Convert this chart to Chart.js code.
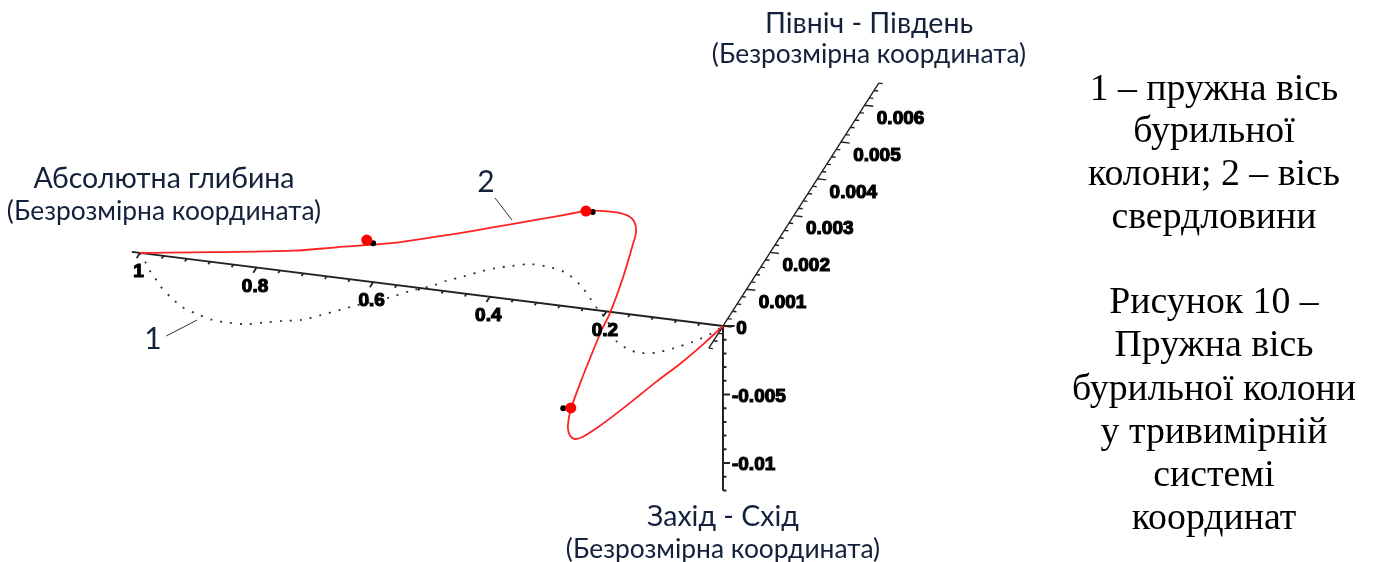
<!DOCTYPE html>
<html>
<head>
<meta charset="utf-8">
<title>Пружна вісь бурильної колони</title>
<style>
  html, body { margin: 0; padding: 0; background: #fff; }
  canvas { display: block; }
</style>
<script src="https://cdn.jsdelivr.net/npm/chart.js@4"></script>
</head>
<body>
<canvas id="chart" width="1375" height="562"></canvas>
<script>
const wellDepth = [0, 0.028, 0.068, 0.114, 0.154, 0.188, 0.217, 0.240, 0.254, 0.262, 0.266, 0.264, 0.260, 0.245, 0.228, 0.208, 0.194, 0.171, 0.154, 0.149, 0.152, 0.162, 0.180, 0.199, 0.220, 0.235, 0.257, 0.314, 0.362, 0.428, 0.491, 0.560, 0.663, 0.737, 0.868, 0.954, 1]
const wellEastWest = [0, -0.00125, -0.00293, -0.00467, -0.00625, -0.00756, -0.00862, -0.00936, -0.00960, -0.00943, -0.00888, -0.00803, -0.00732, -0.00549, -0.00357, -0.00140, -0.00011, 0.00269, 0.00522, 0.00609, 0.00680, 0.00716, 0.00731, 0.00731, 0.00725, 0.00716, 0.00686, 0.00612, 0.00551, 0.00467, 0.00390, 0.00310, 0.00221, 0.00157, 0.00077, 0.00027, 0]

const stringDepth = [1, 0.991, 0.984, 0.975, 0.966, 0.947, 0.927, 0.902, 0.875, 0.849, 0.820, 0.789, 0.756, 0.723, 0.690, 0.657, 0.637, 0.571, 0.537, 0.494, 0.474, 0.446, 0.417, 0.391, 0.364, 0.328, 0.294, 0.268, 0.245, 0.228, 0.214, 0.199, 0.182, 0.165, 0.145, 0.114, 0.085, 0.051, 0.017, 0]
const stringEastWest = [0, -0.00059, -0.00116, -0.00164, -0.00220, -0.00295, -0.00357, -0.00393, -0.00423, -0.00428, -0.00424, -0.00396, -0.00366, -0.00341, -0.00289, -0.00233, -0.00198, -0.00095, -0.00031, 0.00036, 0.00078, 0.00122, 0.00174, 0.00213, 0.00244, 0.00276, 0.00269, 0.00242, 0.00169, 0.00081, 0.00003, -0.00062, -0.00212, -0.00251, -0.00272, -0.00255, -0.00208, -0.00142, -0.00058, 0]

const markerDepth = [0.611, 0.235, 0.261]
const markerEastWest = [0.00302, 0.00714, -0.00737]
const anchorDepth = [0.600, 0.2235, 0.274]
const anchorEastWest = [0.00284, 0.00713, -0.00746]

const depthLabels = [1, 0.8, 0.6, 0.4, 0.2]
const northSouthLabels = [0.001, 0.002, 0.003, 0.004, 0.005, 0.006]
const eastWestLabels = [0, -0.005, -0.01]

const axisTitles = [
  { lines: ['Абсолютна глибина', '(Безрозмірна координата)'], x: 164, y: [179, 211] },
  { lines: ['Північ - Південь', '(Безрозмірна координата)'], x: 869, y: [24, 54] },
  { lines: ['Захід - Схід', '(Безрозмірна координата)'], x: 723, y: [517, 549] }
]
const caption = [
  ['1 – пружна вісь', 90], ['бурильної', 132], ['колони; 2 – вісь', 175], ['свердловини', 218],
  ['Рисунок 10 –', 303], ['Пружна вісь', 346], ['бурильної колони', 390],
  ['у тривимірній', 433], ['системі', 476], ['координат', 519]
]

// oblique view: depth runs along x, east-west along y, north-south is sheared across both
function project(depth, northSouth, eastWest) {
  return {
    x: depth - northSouth * 40.48,
    y: eastWest + northSouth * 2.686 + depth * 0.00533
  }
}

function curve(depths, eastWests) {
  return depths.map((d, i) => project(d, 0, eastWests[i]))
}

function segments(list) {
  const out = []
  list.forEach(pair => out.push(pair[0], pair[1], { x: NaN, y: NaN }))
  return out
}

function range(from, to, count) {
  const out = []
  for (let i = 0; i <= count; i++) out.push(from + (to - from) * i / count)
  return out
}

function isMajor(v, step) {
  return Math.abs(v / step - Math.round(v / step)) < 1e-6
}

const depthAxis = [
  [project(0, 0, 0), project(1.014, 0, 0)],
  ...range(0, 1, 25).map(d => [project(d, 0, 0), project(d, isMajor(d, 0.2) ? -0.00014 : -0.00007, 0)])
]
const northSouthAxis = [
  [project(0, -0.0006, 0), project(0, 0.0066, 0)],
  ...range(-0.0006, 0.0066, 36).map(n => [project(0, n, 0), project(isMajor(n, 0.001) ? -0.015 : -0.007, n, 0)])
]
const eastWestAxis = [
  [project(0, 0, 0), project(0, 0, -0.012)],
  ...range(0, -0.012, 12).map(e => {
    const start = project(0, 0, e)
    const len = e === 0 ? 0.02 : isMajor(e, 0.005) ? 0.012 : 0.006
    return [start, { x: start.x - len, y: start.y }]
  })
]

const leaderOne = curve([0.955, 0.902], [-0.00582, -0.00437])
const leaderTwo = curve([0.391, 0.362], [0.00726, 0.00581])

function axisDataset(list, width) {
  return {
    data: segments(list), showLine: true, pointRadius: 0,
    borderColor: '#222', borderWidth: width, spanGaps: false
  }
}

const textPlugin = {
  id: 'chartText',
  afterDatasetsDraw(chart) {
    const ctx = chart.ctx
    const sx = chart.scales.x
    const sy = chart.scales.y
    ctx.save()

    function tickText(text, pos, dx, dy, align) {
      const px = sx.getPixelForValue(pos.x) + dx
      const py = sy.getPixelForValue(pos.y) + dy
      ctx.font = 'bold 19px "Liberation Sans"'
      ctx.textAlign = align
      ctx.textBaseline = 'middle'
      ctx.fillStyle = '#000'
      ctx.strokeStyle = '#000'
      ctx.lineWidth = 1.2
      ctx.strokeText(text, px, py)
      ctx.fillText(text, px, py)
    }

    depthLabels.forEach(d => tickText(String(d), project(d, 0, 0), -1.5, 19, 'center'))
    northSouthLabels.forEach(n => tickText(String(n), project(0, n, 0), 36, 13.5, 'center'))
    eastWestLabels.forEach(e => {
      if (e === 0) tickText('0', project(0, 0, 0), 18.5, 2.5, 'center')
      else tickText(String(e), project(0, 0, e), 9, 2, 'left')
    })

    ctx.textAlign = 'center'
    ctx.textBaseline = 'middle'
    ctx.fillStyle = '#14213d'
    axisTitles.forEach(t => {
      ctx.font = '28.5px Lato, "Noto Sans"'
      ctx.fillText(t.lines[0], t.x, t.y[0])
      ctx.font = '26.4px Lato, "Noto Sans"'
      ctx.fillText(t.lines[1], t.x, t.y[1])
    })
    ctx.font = '30px Lato, "Noto Sans"'
    ctx.fillText('1', 153, 339)
    ctx.fillText('2', 486, 182)

    ctx.fillStyle = '#000'
    ctx.font = '37.8px "Liberation Serif"'
    caption.forEach(c => ctx.fillText(c[0], 1214, c[1]))
    ctx.restore()
  }
}

new Chart(document.getElementById('chart'), {
  type: 'scatter',
  data: {
    datasets: [
      { data: curve(markerDepth, markerEastWest), pointRadius: 5.5, pointBackgroundColor: '#f00', pointBorderWidth: 0 },
      { data: curve(anchorDepth, anchorEastWest), pointRadius: 3, pointBackgroundColor: '#000', pointBorderWidth: 0 },
      { data: curve(wellDepth, wellEastWest), showLine: true, tension: 0.3, pointRadius: 0, borderColor: '#ff2222', borderWidth: 1.8 },
      { data: curve(stringDepth, stringEastWest), showLine: true, tension: 0.3, pointRadius: 0, borderColor: '#333', borderWidth: 1.8, borderDash: [2, 8] },
      { data: leaderOne, showLine: true, pointRadius: 0, borderColor: '#333', borderWidth: 1 },
      { data: leaderTwo, showLine: true, pointRadius: 0, borderColor: '#333', borderWidth: 1 },
      axisDataset(depthAxis, 1.8),
      axisDataset(northSouthAxis, 1.4),
      axisDataset(eastWestAxis, 2)
    ]
  },
  options: {
    responsive: false,
    animation: false,
    events: [],
    layout: { autoPadding: false, padding: 0 },
    plugins: { legend: { display: false }, tooltip: { enabled: false } },
    scales: {
      x: { type: 'linear', bounds: 'data', reverse: true, min: -1.1184, max: 1.2401, display: false },
      y: { type: 'linear', bounds: 'data', min: -0.017226, max: 0.023796, display: false }
    }
  },
  plugins: [textPlugin]
})
</script>
</body>
</html>
